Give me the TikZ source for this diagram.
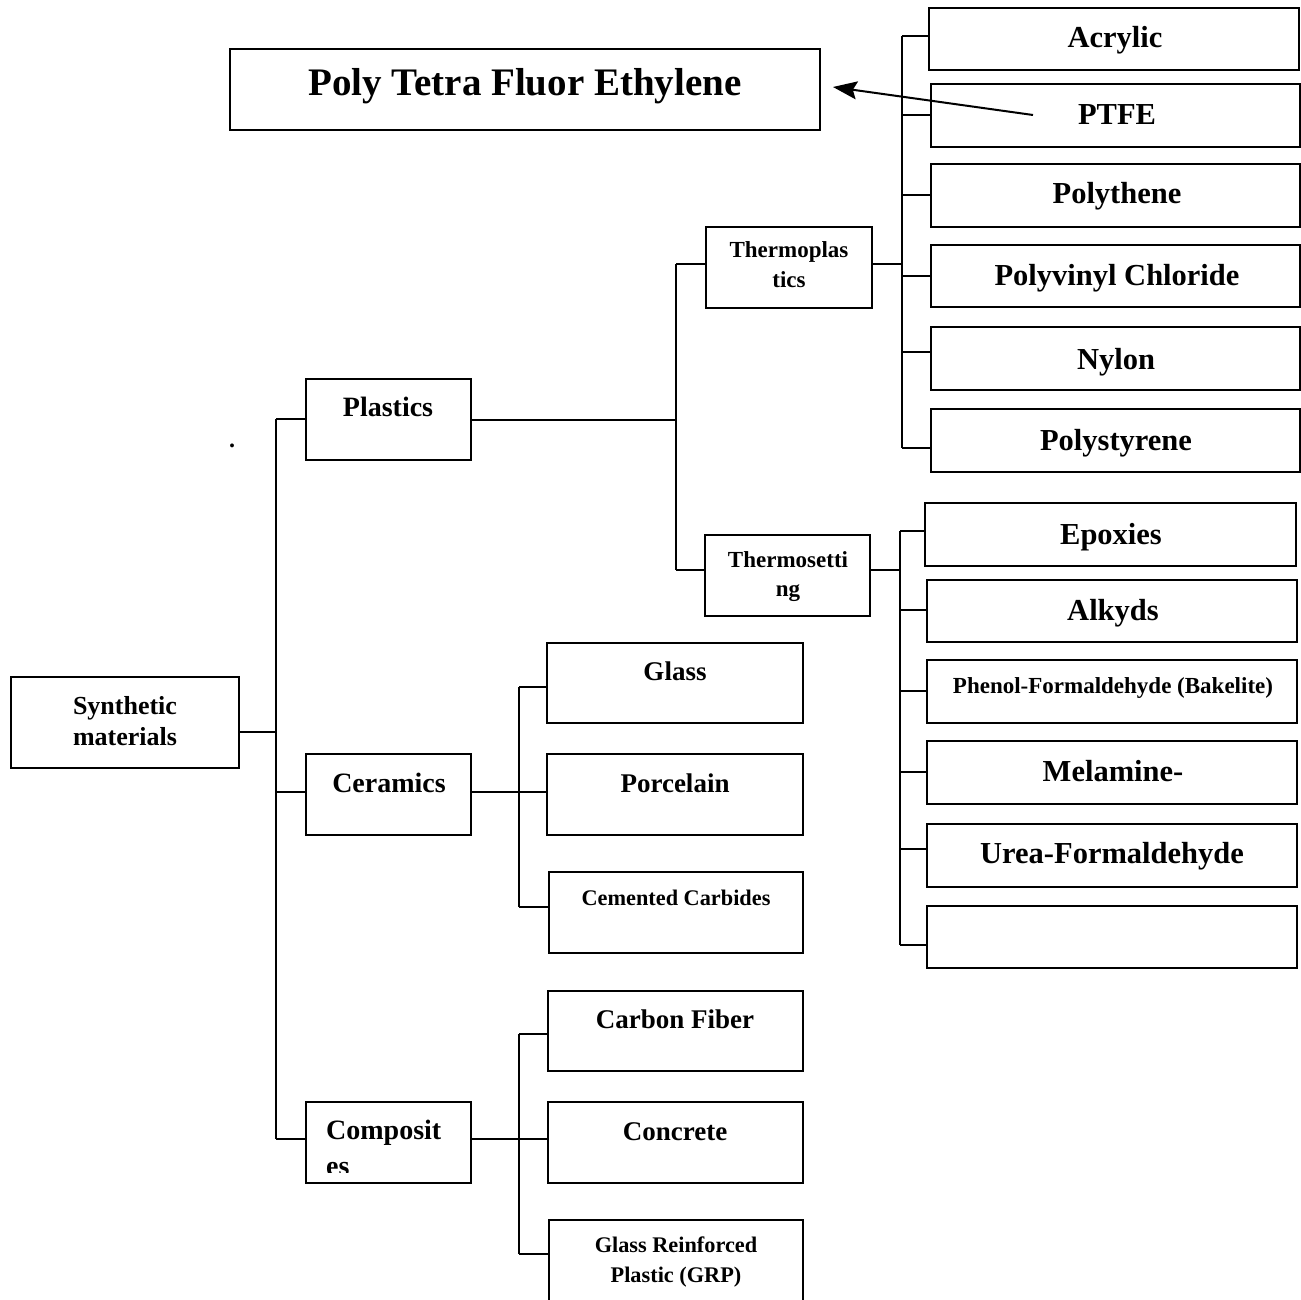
\documentclass[tikz,border=0pt]{standalone}
\usepackage{fontspec}
\setmainfont{Liberation Serif}
\usetikzlibrary{arrows.meta,fit}
\tikzset{
  box/.style={draw=black, line width=2pt, inner sep=0pt},
  lbl/.style={inner sep=0pt, anchor=base, align=center},
  wire/.style={draw=black, line width=2pt},
}
\newcommand\fz[2]{\fontsize{#1pt}{#2pt}\selectfont\bfseries}
\newcommand\bx[5]{\coordinate (#1-a) at (#2,#3); \coordinate (#1-b) at (#4,#5); \node[box, fit=(#1-a)(#1-b)] (#1) {};}
\begin{document}
\begin{tikzpicture}[x=1pt,y=-1pt]
\useasboundingbox (0,0) rectangle (1301,1300);
\fill[white] (0,0) rectangle (1301,1300);
% boxes
\bx{title}{230}{49}{820}{130}
\bx{acrylic}{929}{8}{1299}{70}
\bx{ptfe}{931}{84}{1300}{147}
\bx{polythene}{931}{164}{1300}{227}
\bx{pvc}{931}{245}{1300}{307}
\bx{nylon}{931}{327}{1300}{390}
\bx{polystyrene}{931}{409}{1300}{472}
\bx{thermoplastics}{706}{227}{872}{308}
\bx{thermosetting}{705}{535}{870}{616}
\bx{epoxies}{925}{503}{1296}{566}
\bx{alkyds}{927}{580}{1297}{642}
\bx{phenol}{927}{660}{1297}{723}
\bx{melamine}{927}{741}{1297}{804}
\bx{urea}{927}{824}{1297}{887}
\bx{empty}{927}{906}{1297}{968}
\bx{syn}{11}{677}{239}{768}
\bx{plastics}{306}{379}{471}{460}
\bx{ceramics}{306}{754}{471}{835}
\bx{composites}{306}{1102}{471}{1183}
\bx{glass}{547}{643}{803}{723}
\bx{porcelain}{547}{754}{803}{835}
\bx{cemented}{549}{872}{803}{953}
\bx{carbon}{548}{991}{803}{1071}
\bx{concrete}{548}{1102}{803}{1183}
\bx{grp}{549}{1220}{803}{1312}
% texts
\node[lbl,font=\fz{39}{46}] (title-t) at (525,96) {Poly Tetra Fluor Ethylene};
\node[lbl,font=\fz{30.5}{36}] (acrylic-t) at (1115,48) {Acrylic};
\node[lbl,font=\fz{30.5}{36}] (ptfe-t) at (1117,125) {PTFE};
\node[lbl,font=\fz{30.5}{36}] (polythene-t) at (1117,204) {Polythene};
\node[lbl,font=\fz{30.5}{36}] (pvc-t) at (1117,285) {Polyvinyl Chloride};
\node[lbl,font=\fz{30.5}{36}] (nylon-t) at (1116,369) {Nylon};
\node[lbl,font=\fz{30.5}{36}] (polystyrene-t) at (1116,450) {Polystyrene};
\node[lbl,font=\fz{23}{29}] (thermoplastics-t) at (789,287) {Thermoplas\\tics};
\node[lbl,font=\fz{23}{29}] (thermosetting-t) at (788,596) {Thermosetti\\ng};
\node[lbl,font=\fz{30.5}{36}] (epoxies-t) at (1111,544) {Epoxies};
\node[lbl,font=\fz{30.5}{36}] (alkyds-t) at (1113,620) {Alkyds};
\node[lbl,font=\fz{23}{28}] (phenol-t) at (1113,693) {Phenol-Formaldehyde (Bakelite)};
\node[lbl,font=\fz{30.5}{36}] (melamine-t) at (1113,781) {Melamine-};
\node[lbl,font=\fz{30.5}{36}] (urea-t) at (1112,863) {Urea-Formaldehyde};
\node[lbl,font=\fz{26}{31}] (syn-t) at (125,745) {Synthetic\\materials};
\node[lbl,font=\fz{28}{34}] (plastics-t) at (388,416) {Plastics};
\node[lbl,font=\fz{28}{34}] (ceramics-t) at (389,792) {Ceramics};
\begin{scope}
\clip (306,1102) rectangle (471,1172.5);
\node[inner sep=0pt, anchor=base west, align=left, font=\fz{28}{36}] (composites-t) at (326,1175) {Composit\\es};
\end{scope}
\node[lbl,font=\fz{27}{32}] (glass-t) at (675,680) {Glass};
\node[lbl,font=\fz{27}{32}] (porcelain-t) at (675,792) {Porcelain};
\node[lbl,font=\fz{22.3}{28}] (cemented-t) at (676,905) {Cemented Carbides};
\node[lbl,font=\fz{27}{32}] (carbon-t) at (675,1028) {Carbon Fiber};
\node[lbl,font=\fz{27}{32}] (concrete-t) at (675,1140) {Concrete};
\node[lbl,font=\fz{22.3}{30}] (grp-t) at (676,1282) {Glass Reinforced\\Plastic (GRP)};
\node[lbl,font=\fz{24}{28}] (dot) at (232,447) {.};
% level 0 -> 1
\coordinate (b0t) at (276,419);
\coordinate (b0b) at (276,1139);
\coordinate (b0s) at (276,731.5);
\draw[wire] (b0t) -- (b0b);
\draw[wire] (b0s -| syn.east) -- (b0s);
\draw[wire] (b0t) -- (b0t -| plastics.west);
\draw[wire] (276,792) -- (ceramics.west |- 0,792);
\draw[wire] (b0b) -- (b0b -| composites.west);
% plastics -> thermo
\coordinate (b1t) at (676,264);
\coordinate (b1b) at (676,570);
\draw[wire] (b1t) -- (b1b);
\draw[wire] (plastics.east) -- (plastics.east -| b1t);
\draw[wire] (b1t) -- (b1t -| thermoplastics.west);
\draw[wire] (b1b) -- (b1b -| thermosetting.west);
% thermoplastics -> children
\coordinate (b2t) at (902,36);
\coordinate (b2b) at (902,448);
\draw[wire] (b2t) -- (b2b);
\draw[wire] (thermoplastics.east |- 0,264) -- (902,264);
\draw[wire] (b2t) -- (b2t -| acrylic.west);
\draw[wire] (902,115) -- (ptfe.west |- 0,115);
\draw[wire] (902,195) -- (polythene.west |- 0,195);
\draw[wire] (902,276) -- (pvc.west |- 0,276);
\draw[wire] (902,352) -- (nylon.west |- 0,352);
\draw[wire] (b2b) -- (b2b -| polystyrene.west);
% thermosetting -> children
\coordinate (b3t) at (900,531);
\coordinate (b3b) at (900,945);
\draw[wire] (b3t) -- (b3b);
\draw[wire] (thermosetting.east |- 0,570) -- (900,570);
\draw[wire] (b3t) -- (b3t -| epoxies.west);
\draw[wire] (900,610) -- (alkyds.west |- 0,610);
\draw[wire] (900,691) -- (phenol.west |- 0,691);
\draw[wire] (900,772) -- (melamine.west |- 0,772);
\draw[wire] (900,849) -- (urea.west |- 0,849);
\draw[wire] (b3b) -- (b3b -| empty.west);
% ceramics -> children
\coordinate (b4t) at (519,687);
\coordinate (b4b) at (519,907);
\draw[wire] (b4t) -- (b4b);
\draw[wire] (ceramics.east |- 0,792) -- (519,792);
\draw[wire] (b4t) -- (b4t -| glass.west);
\draw[wire] (519,792) -- (porcelain.west |- 0,792);
\draw[wire] (b4b) -- (b4b -| cemented.west);
% composites -> children
\coordinate (b5t) at (519,1034);
\coordinate (b5b) at (519,1254);
\draw[wire] (b5t) -- (b5b);
\draw[wire] (composites.east |- 0,1139) -- (519,1139);
\draw[wire] (b5t) -- (b5t -| carbon.west);
\draw[wire] (519,1139) -- (concrete.west |- 0,1139);
\draw[wire] (b5b) -- (b5b -| grp.west);
% arrow PTFE -> title
\coordinate (arrS) at (1033,115);
\coordinate (arrE) at (833,87);
\draw[wire, -{Stealth[length=24pt,width=18pt,inset=4pt]}] (arrS) -- (arrE);
\end{tikzpicture}
\end{document}
